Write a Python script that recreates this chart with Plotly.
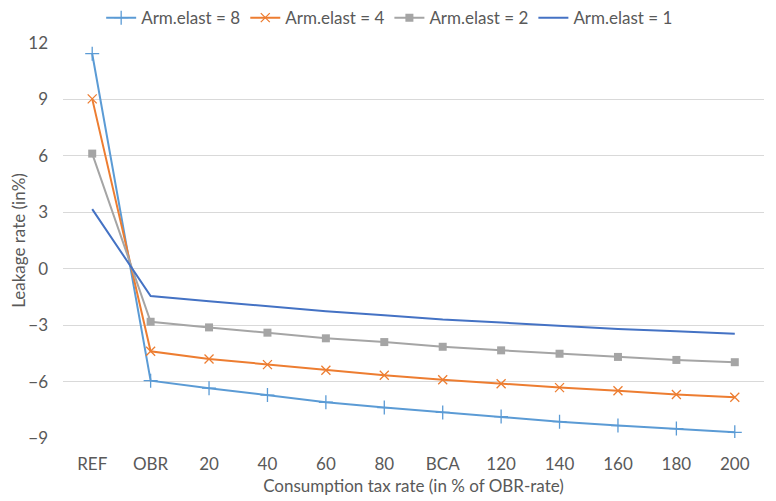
import plotly.graph_objects as go

categories = ["REF", "OBR", "20", "40", "60", "80", "BCA", "120", "140", "160", "180", "200"]
arm8 = [11.43, -5.95, -6.35, -6.72, -7.10, -7.38, -7.64, -7.86, -8.13, -8.34, -8.50, -8.70]
arm4 = [9.03, -4.39, -4.80, -5.10, -5.40, -5.66, -5.90, -6.12, -6.32, -6.49, -6.69, -6.83]
arm2 = [6.12, -2.82, -3.12, -3.40, -3.70, -3.90, -4.15, -4.34, -4.52, -4.69, -4.85, -4.97]
arm1 = [3.17, -1.45, -1.73, -1.99, -2.26, -2.47, -2.70, -2.86, -3.05, -3.21, -3.33, -3.46]
y_ticks = [-9, -6, -3, 0, 3, 6, 9, 12]

FONT = "Lato"
TXT = "#595959"
FS = 17

fig = go.Figure()
fig.add_trace(go.Scatter(x=categories, y=arm8, name="Arm.elast = 8", mode="lines+markers",
                         line=dict(color="#5B9BD5", width=2),
                         marker=dict(symbol="cross-thin-open", size=10, color="#5B9BD5",
                                     line=dict(color="#5B9BD5", width=1.3))))
fig.add_trace(go.Scatter(x=categories, y=arm4, name="Arm.elast = 4", mode="lines+markers",
                         line=dict(color="#ED7D31", width=2),
                         marker=dict(symbol="x-thin-open", size=9, color="#ED7D31",
                                     line=dict(color="#ED7D31", width=1.3))))
fig.add_trace(go.Scatter(x=categories, y=arm2, name="Arm.elast = 2", mode="lines+markers",
                         line=dict(color="#A5A5A5", width=2),
                         marker=dict(symbol="square", size=8, color="#A5A5A5")))
fig.add_trace(go.Scatter(x=categories, y=arm1, name="Arm.elast = 1", mode="lines",
                         line=dict(color="#4472C4", width=2)))

fig.update_layout(
    width=776, height=501,
    margin=dict(l=55, r=20, t=35, b=71, autoexpand=False),
    paper_bgcolor="white", plot_bgcolor="white",
    font=dict(family=FONT, color=TXT, size=FS),
    showlegend=True,
    legend=dict(orientation="h", x=0.466, xanchor="center", y=1.063, yanchor="middle",
                font=dict(size=FS, color=TXT), itemwidth=30, tracegroupgap=0,
                bgcolor="rgba(0,0,0,0)"),
    xaxis=dict(type="category", range=[-0.5, 11.5], showgrid=False, zeroline=False,
               showline=False, ticks="", tickfont=dict(size=FS, color=TXT),
               ticklabelstandoff=14,
               title=dict(text="Consumption tax rate (in % of OBR-rate)", font=dict(size=FS, color=TXT),
                          standoff=7)),
    yaxis=dict(range=[-9, 12], tickvals=y_ticks, showgrid=True, gridcolor="#D9D9D9", gridwidth=1,
               zeroline=False, showline=False, ticks="", tickfont=dict(size=FS, color=TXT),
               ticklabelstandoff=14,
               title=dict(text="Leakage rate (in%)", font=dict(size=FS, color=TXT), standoff=2)),
    shapes=[dict(type="line", xref="paper", yref="paper",
                 x0=(765 - 55) / 701, x1=(765 - 55) / 701, y0=-0.2, y1=1.2,
                 line=dict(color="#D0D0D0", width=1))],
)

fig.write_html("out.html")
